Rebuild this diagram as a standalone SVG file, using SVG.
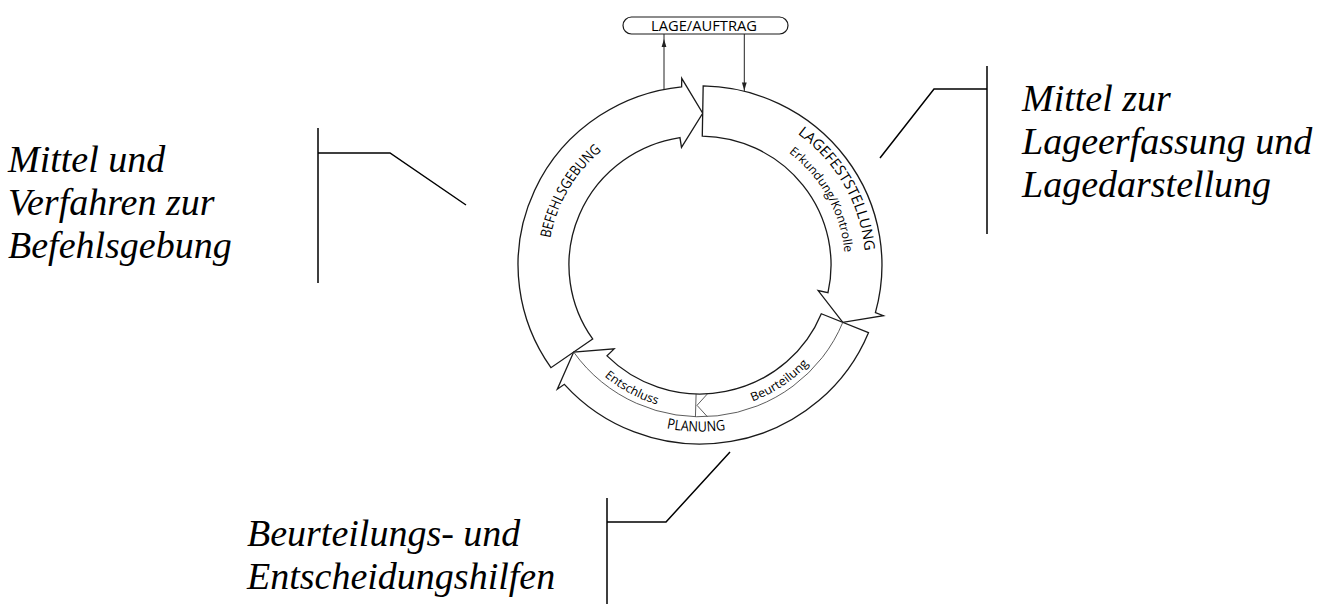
<svg xmlns="http://www.w3.org/2000/svg" width="1322" height="606" viewBox="0 0 1322 606">
<style>
.out{fill:#fff;stroke:#1a1a1a;stroke-width:1.3;stroke-linejoin:miter}
.thin{fill:none;stroke:#333;stroke-width:0.8}
.lead{fill:none;stroke:#000;stroke-width:1.5}
.lbl{font-family:"Liberation Serif","Times New Roman",serif;font-style:italic;font-size:38px;fill:#000}
.ring{font-family:"Open Sans","Noto Sans",sans-serif;fill:#000;font-weight:500}
.cap{font-size:14.5px}
.sm{font-size:12px}
.conn{stroke:#222;stroke-width:1;fill:none}
</style>
<defs>
<path id="pBef" d="M -151 0 A 151 151 0 0 1 -75.5 -130.77"/>
<path id="pLage" d="M 82.5 -141.6 A 164 164 0 0 1 163.98 2.86"/>
<path id="pErk" d="M 74.5 -122.6 A 144 144 0 0 1 143.94 3.77"/>
<path id="pPlan" d="M -87.43 143.38 A 168 168 0 0 0 80.49 147.46"/>
<path id="pEnt" d="M -125.32 76.65 A 147 147 0 0 0 3.85 146.95"/>
<path id="pBeu" d="M 10.25 146.64 A 147 147 0 0 0 132.12 64.44"/>
</defs>

<g id="ring" transform="translate(700 265) scale(1.008 0.992)">
  <g id="befehlsgebung">
    <path class="out" d="M -106.49 74.57 L -147.86 103.53 A 180.5 180.5 0 0 1 -18.24 -179.58 L -18.12 -188.13 L 2.67 -152.98 L -18.36 -118.59 L -19.89 -128.47 A 130 130 0 0 0 -106.49 74.57 Z"/>
    <text class="ring cap"><textPath href="#pBef" startOffset="50%" text-anchor="middle" textLength="104" lengthAdjust="spacingAndGlyphs">BEFEHLSGEBUNG</textPath></text>
  </g>
  <g id="lagefeststellung">
    <path class="out" d="M 2.27 -129.98 L 3.15 -180.47 A 180.5 180.5 0 0 1 174.02 47.93 L 181.95 51.14 L 141.66 57.81 L 117.20 25.77 L 126.97 27.92 A 130 130 0 0 0 2.27 -129.98 Z"/>
    <text class="ring cap"><textPath href="#pLage" startOffset="50%" text-anchor="middle" textLength="140" lengthAdjust="spacingAndGlyphs">LAGEFESTSTELLUNG</textPath></text>
    <text class="ring sm"><textPath href="#pErk" startOffset="50%" text-anchor="middle" textLength="118" lengthAdjust="spacingAndGlyphs">Erkundung/Kontrolle</textPath></text>
  </g>
  <g id="planung">
    <path class="out" d="M 120.36 49.12 L 167.12 68.20 A 180.5 180.5 0 0 1 -134.56 120.31 L -141.55 125.24 L -125.33 87.76 L -85.15 84.56 L -92.24 91.60 A 130 130 0 0 0 120.36 49.12 Z"/>
    <path class="thin" d="M 141.66 57.81 A 153 153 0 0 1 -125.33 87.76"/>
    <path class="thin" d="M -3.86 129.94 L -4.54 152.93 M 7.48 129.78 L -2.96 141.47 L 7.21 152.83"/>
    <text class="ring cap"><textPath href="#pPlan" startOffset="50%" text-anchor="middle" textLength="59" lengthAdjust="spacingAndGlyphs">PLANUNG</textPath></text>
    <text class="ring sm"><textPath href="#pEnt" startOffset="50%" text-anchor="middle" textLength="60" lengthAdjust="spacingAndGlyphs">Entschluss</textPath></text>
    <text class="ring sm"><textPath href="#pBeu" startOffset="50%" text-anchor="middle" textLength="68" lengthAdjust="spacingAndGlyphs">Beurteilung</textPath></text>
  </g>
</g>

<g id="lage-auftrag">
  <rect x="623" y="17" width="165" height="17" rx="8.5" fill="#fff" stroke="#1a1a1a" stroke-width="1.2"/>
  <text x="704" y="30.5" text-anchor="middle" class="ring" font-size="14" textLength="106" lengthAdjust="spacingAndGlyphs">LAGE/AUFTRAG</text>
</g>

<g id="connectors">
  <line class="conn" x1="664" y1="89.5" x2="664" y2="34"/>
  <polygon points="664,39 661.6,47 666.4,47" fill="#222"/>
  <line class="conn" x1="744.3" y1="34" x2="744.3" y2="91"/>
  <polygon points="744.3,90.5 741.9,82.5 746.7,82.5" fill="#222"/>
</g>

<g id="leader-left">
  <path class="lead" d="M 318 128 L 318 283 M 318 153 L 390 153 L 466 205"/>
  <text class="lbl" x="8" y="172">Mittel und</text>
  <text class="lbl" x="8" y="215">Verfahren zur</text>
  <text class="lbl" x="8" y="258">Befehlsgebung</text>
</g>
<g id="leader-right">
  <path class="lead" d="M 987 66 L 987 234 M 987 89 L 934 89 L 880 158"/>
  <text class="lbl" x="1022" y="111">Mittel zur</text>
  <text class="lbl" x="1022" y="154">Lageerfassung und</text>
  <text class="lbl" x="1022" y="197">Lagedarstellung</text>
</g>
<g id="leader-bottom">
  <path class="lead" d="M 607 498 L 607 604 M 607 522 L 666 522 L 730 452"/>
  <text class="lbl" x="247" y="546">Beurteilungs- und</text>
  <text class="lbl" x="247" y="589">Entscheidungshilfen</text>
</g>
</svg>
